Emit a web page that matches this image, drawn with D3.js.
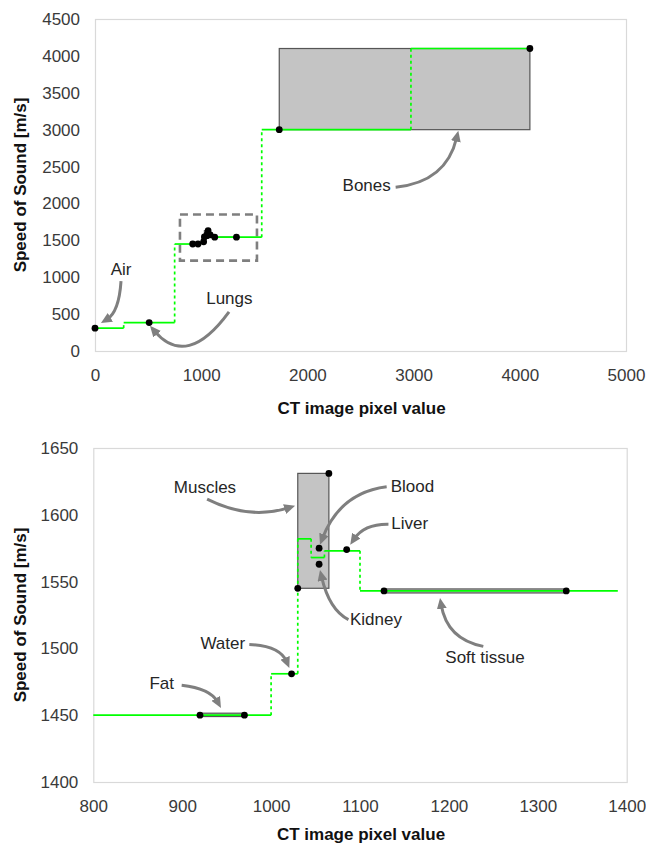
<!DOCTYPE html>
<html>
<head>
<meta charset="utf-8">
<script src="https://cdn.jsdelivr.net/npm/d3@7"></script>
<style>
  body { margin: 0; background: #fff; }
  svg { display: block; }
</style>
</head>
<body>
<svg id="chart" width="646" height="845"></svg>
<script>
// Measured tissue points: CT image pixel value and speed of sound [m/s]
const pointTissue = ["Air", "Lungs", "Fat", "Fat", "Water", "Muscles", "Muscles", "Blood", "Kidney", "Liver", "Soft tissue", "Soft tissue", "Bones", "Bones"];
const pointPixel  = [0, 510, 920, 970, 1023, 1030, 1065, 1054, 1054, 1085, 1127, 1332, 1735, 4095];
const pointSpeed  = [310, 385, 1450, 1450, 1481, 1545, 1631, 1575, 1563, 1574, 1543, 1543, 3000, 4100];

// Tissue ranges drawn as shaded boxes
const rangeTissue   = ["Fat", "Muscles", "Soft tissue", "Bones"];
const rangePixelMin = [920, 1030, 1127, 1735];
const rangePixelMax = [970, 1065, 1332, 4095];
const rangeSpeedMin = [1449, 1545, 1541.5, 3000];
const rangeSpeedMax = [1451.5, 1631, 1544.5, 4100];

// Piecewise-constant mapping from pixel value to speed of sound
const stepStart = [0, 270, 750, 1000, 1030, 1045, 1060, 1100, 1570, 2975];
const stepEnd   = [270, 750, 1000, 1030, 1045, 1060, 1100, 1570, 2975, 4095];
const stepSpeed = [310, 385, 1450, 1481, 1582, 1568, 1573, 1543, 3000, 4100];

// Axis ticks
const overviewXTicks = [0, 1000, 2000, 3000, 4000, 5000];
const overviewYTicks = [0, 500, 1000, 1500, 2000, 2500, 3000, 3500, 4000, 4500];
const detailXTicks   = [800, 900, 1000, 1100, 1200, 1300, 1400];
const detailYTicks   = [1400, 1450, 1500, 1550, 1600, 1650];

// Soft-tissue window marked on the overview and shown in the detail panel
const windowPixel = [800, 1525];
const windowSpeed = [1225, 1850];
const detailLineEnd = 1390;

// Callouts, given in data units: label centre, arrow start, bend, tip
const overviewNotes = [
  { text: "Air",   label: [245, 1108],  from: [245, 946],   bend: [226, 527],   to: [56, 378] },
  { text: "Lungs", label: [1265, 712],  from: [1262, 531],  bend: [866, -248],  to: [518, 342] },
  { text: "Bones", label: [2558, 2252], from: [2831, 2220], bend: [3308, 2288], to: [3421, 2986] }
];
const detailNotes = [
  { text: "Muscles",     label: [925.6, 1621],   from: [928, 1611.7],    bend: [975, 1596],      to: [1027, 1606.7] },
  { text: "Blood",       label: [1159, 1621.6],  from: [1130, 1621],     bend: [1077.5, 1616.6], to: [1055, 1577.6] },
  { text: "Liver",       label: [1156, 1593.5],  from: [1132, 1593],     bend: [1104.8, 1593.3], to: [1089, 1577.6] },
  { text: "Kidney",      label: [1118, 1522],    from: [1087, 1521.6],   bend: [1065.4, 1528.9], to: [1055, 1558.7] },
  { text: "Soft tissue", label: [1240.6, 1493.5],from: [1238.7, 1501.5], bend: [1197.9, 1506.7], to: [1190, 1537.8] },
  { text: "Water",       label: [945.6, 1504],   from: [975.5, 1503],    bend: [1010, 1502],     to: [1020.5, 1485.3] },
  { text: "Fat",         label: [877, 1473.7],   from: [899.4, 1472.4],  bend: [931.4, 1470],    to: [943.6, 1455.4] }
];

const FONT = "'Liberation Sans', Arial, Helvetica, sans-serif";
const GREEN = "#00ff00";
const ARROW = "#7f7f7f";

const svg = d3.select("#chart");

const defs = svg.append("defs");
defs.append("marker")
  .attr("id", "head")
  .attr("markerUnits", "userSpaceOnUse")
  .attr("viewBox", "0 0 11 10")
  .attr("markerWidth", 11)
  .attr("markerHeight", 10)
  .attr("refX", 4)
  .attr("refY", 5)
  .attr("orient", "auto")
  .append("path")
  .attr("d", "M0,0 L11,5 L0,10 Z")
  .attr("fill", ARROW);

const points = pointPixel.map((p, i) => ({ tissue: pointTissue[i], px: p, v: pointSpeed[i] }));
const ranges = rangeTissue.map((t, i) => ({
  tissue: t, x0: rangePixelMin[i], x1: rangePixelMax[i], y0: rangeSpeedMin[i], y1: rangeSpeedMax[i]
}));
const steps = stepStart.map((s, i) => ({ x0: s, x1: stepEnd[i], v: stepSpeed[i] }));

function drawPanel(cfg) {
  const x = d3.scaleLinear().domain(cfg.xDomain).range(cfg.xRange);
  const y = d3.scaleLinear().domain(cfg.yDomain).range(cfg.yRange);
  const g = svg.append("g");
  const clipId = "clip-" + cfg.name;

  defs.append("clipPath").attr("id", clipId)
    .append("rect")
    .attr("x", cfg.xRange[0]).attr("y", cfg.yRange[1])
    .attr("width", cfg.xRange[1] - cfg.xRange[0])
    .attr("height", cfg.yRange[0] - cfg.yRange[1]);

  // plot frame
  g.append("rect")
    .attr("x", cfg.xRange[0] + 0.5).attr("y", cfg.yRange[1] + 0.5)
    .attr("width", cfg.xRange[1] - cfg.xRange[0])
    .attr("height", cfg.yRange[0] - cfg.yRange[1])
    .attr("fill", "none").attr("stroke", "#d9d9d9").attr("stroke-width", 1.2);

  // axes
  const xAxis = g.append("g")
    .attr("transform", `translate(0,${cfg.yRange[0]})`)
    .call(d3.axisBottom(x).tickValues(cfg.xTicks).tickSize(0).tickPadding(18).tickFormat(d3.format("d")));
  const yAxis = g.append("g")
    .attr("transform", `translate(${cfg.xRange[0]},0)`)
    .call(d3.axisLeft(y).tickValues(cfg.yTicks).tickSize(0).tickPadding(15).tickFormat(d3.format("d")));
  [xAxis, yAxis].forEach(a => {
    a.select(".domain").remove();
    a.selectAll("text").attr("font-family", FONT).attr("font-size", 17).attr("fill", "#3a3a3a");
  });

  // axis titles
  g.append("text")
    .attr("transform", `translate(${cfg.yTitleX},${(cfg.yRange[0] + cfg.yRange[1]) / 2}) rotate(-90)`)
    .attr("text-anchor", "middle").attr("dy", "0.35em")
    .attr("font-family", FONT).attr("font-size", 17).attr("font-weight", "bold").attr("fill", "#111")
    .text("Speed of Sound [m/s]");
  g.append("text")
    .attr("x", (cfg.xRange[0] + cfg.xRange[1]) / 2 + 1).attr("y", cfg.xTitleY)
    .attr("text-anchor", "middle").attr("dy", "0.35em")
    .attr("font-family", FONT).attr("font-size", 17).attr("font-weight", "bold").attr("fill", "#111")
    .text("CT image pixel value");

  const plot = g.append("g").attr("clip-path", `url(#${clipId})`);

  // tissue range boxes
  plot.selectAll("rect.range").data(ranges).join("rect")
    .attr("class", "range")
    .attr("x", d => x(d.x0)).attr("y", d => y(d.y1))
    .attr("width", d => x(d.x1) - x(d.x0))
    .attr("height", d => Math.max(y(d.y0) - y(d.y1), 0))
    .attr("fill", "#c4c4c4").attr("stroke", "#555").attr("stroke-width", 1.2);

  // window of the detail panel
  if (cfg.showWindow) {
    plot.append("rect")
      .attr("x", x(windowPixel[0])).attr("y", y(windowSpeed[1]))
      .attr("width", x(windowPixel[1]) - x(windowPixel[0]))
      .attr("height", y(windowSpeed[0]) - y(windowSpeed[1]))
      .attr("fill", "none").attr("stroke", "#7f7f7f").attr("stroke-width", 2.6)
      .attr("stroke-dasharray", "8,5");
  }

  // step mapping: solid plateaus, dashed risers
  const lim = cfg.lineEnd;
  const flats = steps.filter(s => s.x0 < lim).map(s => ({ ...s, x1: Math.min(s.x1, lim) }));
  plot.selectAll("line.flat").data(flats).join("line")
    .attr("class", "flat")
    .attr("x1", d => x(d.x0)).attr("x2", d => x(d.x1))
    .attr("y1", d => y(d.v)).attr("y2", d => y(d.v))
    .attr("stroke", GREEN).attr("stroke-width", 1.7);
  const risers = steps.slice(0, -1).map((s, i) => ({ px: s.x1, a: s.v, b: steps[i + 1].v }))
    .filter(r => r.px < lim);
  plot.selectAll("line.rise").data(risers).join("line")
    .attr("class", "rise")
    .attr("x1", d => x(d.px)).attr("x2", d => x(d.px))
    .attr("y1", d => y(d.a)).attr("y2", d => y(d.b))
    .attr("stroke", GREEN).attr("stroke-width", 1.7).attr("stroke-dasharray", "3,3");

  // measured points (drawn whole, only those inside the axis ranges)
  const inView = points.filter(d =>
    d.px >= cfg.xDomain[0] && d.px <= cfg.xDomain[1] && d.v >= cfg.yDomain[0] && d.v <= cfg.yDomain[1]);
  g.selectAll("circle.pt").data(inView).join("circle")
    .attr("class", "pt")
    .attr("cx", d => x(d.px)).attr("cy", d => y(d.v)).attr("r", 3.4)
    .attr("fill", "#000");

  // callouts
  cfg.notes.forEach(n => {
    const p0 = [x(n.from[0]), y(n.from[1])];
    const c = [x(n.bend[0]), y(n.bend[1])];
    const tip = [x(n.to[0]), y(n.to[1])];
    const dx = tip[0] - c[0], dy = tip[1] - c[1];
    const len = Math.hypot(dx, dy) || 1;
    const end = [tip[0] - dx / len * 7, tip[1] - dy / len * 7];
    g.append("path")
      .attr("d", `M${p0[0]},${p0[1]} Q${c[0]},${c[1]} ${end[0]},${end[1]}`)
      .attr("fill", "none").attr("stroke", ARROW).attr("stroke-width", 3)
      .attr("marker-end", "url(#head)");
    g.append("text")
      .attr("x", x(n.label[0])).attr("y", y(n.label[1]))
      .attr("text-anchor", "middle").attr("dy", "0.35em")
      .attr("font-family", FONT).attr("font-size", 17).attr("fill", "#262626")
      .text(n.text);
  });
}

drawPanel({
  name: "overview",
  xDomain: [0, 5000], xRange: [95, 626],
  yDomain: [0, 4500], yRange: [351, 19],
  xTicks: overviewXTicks, yTicks: overviewYTicks,
  yTitleX: 20, xTitleY: 408,
  lineEnd: Infinity, showWindow: true,
  notes: overviewNotes
});

drawPanel({
  name: "detail",
  xDomain: [800, 1400], xRange: [93.3, 626.7],
  yDomain: [1400, 1650], yRange: [782, 448],
  xTicks: detailXTicks, yTicks: detailYTicks,
  yTitleX: 20, xTitleY: 834,
  lineEnd: detailLineEnd, showWindow: false,
  notes: detailNotes
});
</script>
</body>
</html>
